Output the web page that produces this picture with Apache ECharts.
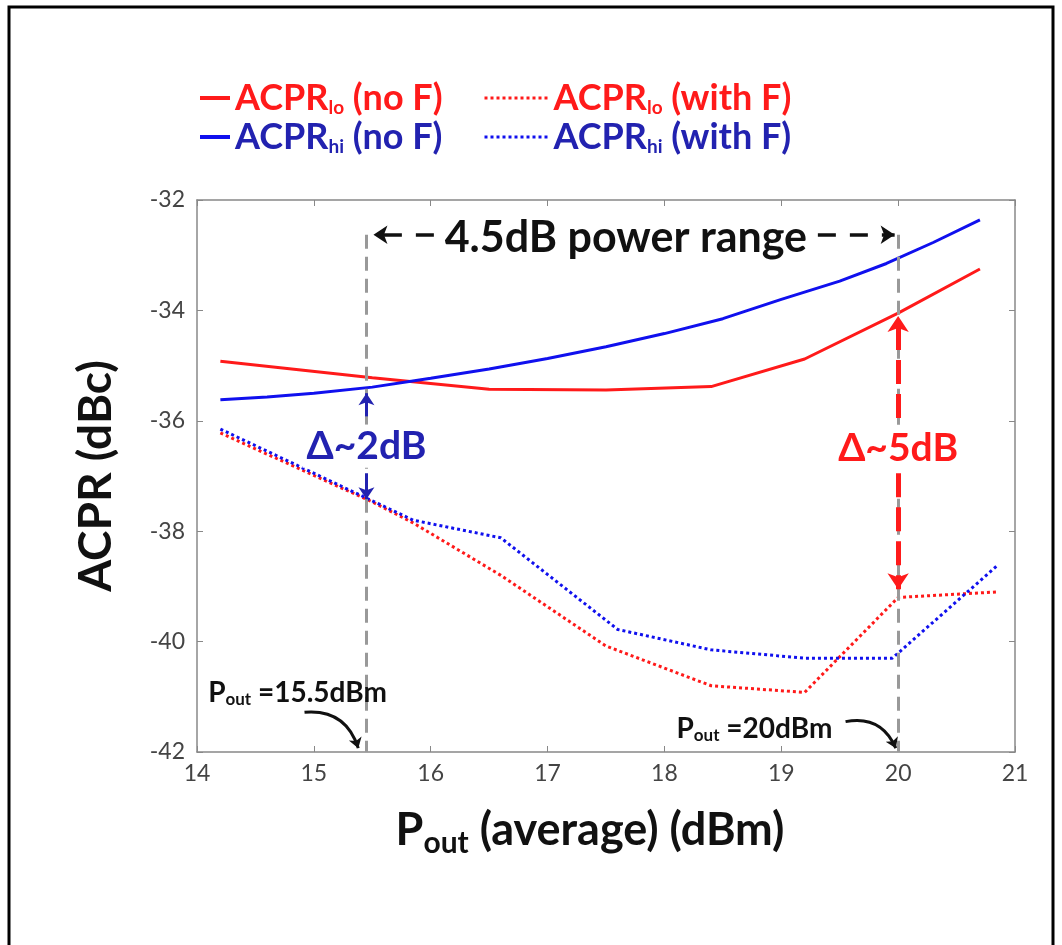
<!DOCTYPE html>
<html><head><meta charset="utf-8">
<script src="https://cdn.jsdelivr.net/npm/echarts@6/dist/echarts.min.js"></script>
<style>html,body{margin:0;padding:0;background:#fff}#c{width:1062px;height:945px}</style>
</head><body><div id="c"></div>
<script>
// ---- data ----
const loNoF_x = [14.2, 15.5, 16.5, 17.5, 18.4, 19.2, 20.0, 20.7];
const loNoF_y = [-34.92, -35.22, -35.43, -35.44, -35.38, -34.88, -34.05, -33.25];
const hiNoF_x = [14.2, 14.6, 15.0, 15.5, 16.0, 16.5, 17.0, 17.5, 18.0, 18.5, 19.0, 19.5, 19.9, 20.3, 20.7];
const hiNoF_y = [-35.62, -35.57, -35.5, -35.39, -35.23, -35.06, -34.87, -34.66, -34.42, -34.15, -33.8, -33.47, -33.15, -32.77, -32.36];
const loF_x = [14.2, 15.5, 15.85, 16.6, 17.5, 18.4, 19.2, 20.0, 20.85];
const loF_y = [-36.22, -37.47, -37.85, -38.8, -40.08, -40.8, -40.92, -39.2, -39.1];
const hiF_x = [14.2, 15.5, 15.85, 16.6, 17.6, 18.4, 19.2, 19.95, 20.85];
const hiF_y = [-36.15, -37.45, -37.8, -38.12, -39.78, -40.15, -40.3, -40.3, -38.62];
const xTicks = [14, 15, 16, 17, 18, 19, 20, 21];
const yTicks = [-42, -40, -38, -36, -34, -32];
const seriesNames = ['ACPR_lo (no F)', 'ACPR_hi (no F)', 'ACPR_lo (with F)', 'ACPR_hi (with F)'];
// annotation anchors (data units)
const refX1 = 15.45, refX2 = 20.0;

const RED = '#ff1a1a', BLUE = '#1010ee', BLUE_T = '#2222b0', FONT = 'Lato';
const zip = (xs, ys) => xs.map((x, i) => [x, ys[i]]);

const sub = {
  b: {fontFamily: FONT, fontWeight: 'bold', fontSize: 36},
  s: {fontFamily: FONT, fontWeight: 'bold', fontSize: 19, padding: [20, 0, 0, 0]}
};
function richName(n) {
  const m = n.match(/^ACPR_(\w+)(.*)$/);
  return '{b|ACPR}{s|' + m[1] + '}{b|' + m[2] + '}';
}
function legendAt(name, left, top, color, w, dotted) {
  return {
    data: [name], left: left, top: top, itemWidth: w, itemHeight: 12, itemGap: 0,
    formatter: richName, selectedMode: false,
    itemStyle: {opacity: 0},
    lineStyle: {width: dotted ? 3 : 4},
    textStyle: {color: color, rich: {b: Object.assign({color: color}, sub.b), s: Object.assign({color: color}, sub.s)}},
    padding: 0
  };
}

const solid = (c) => ({color: c, width: 3, type: 'solid'});
const dotted = (c) => ({color: c, width: 3, type: [3, 3]});
const txt = (extra) => Object.assign({show: true, position: 'inside', opacity: 1}, extra);
const smallRich = {b: {fontFamily: FONT, fontWeight: 'bold', fontSize: 28, color: '#111'}, s: {fontFamily: FONT, fontWeight: 'bold', fontSize: 17, color: '#111', padding: [14, 0, 0, 0]}};

const option = {
  backgroundColor: '#fff',
  animation: false,
  graphic: [{type: 'rect', shape: {x: 9, y: 7, width: 1044, height: 960}, style: {fill: 'none', stroke: '#000', lineWidth: 3}, silent: true}],
  legend: [
    legendAt(seriesNames[0], 198, 80, RED, 30, false),
    legendAt(seriesNames[2], 483, 80, RED, 64, true),
    legendAt(seriesNames[1], 198, 119, BLUE_T, 30, false),
    legendAt(seriesNames[3], 483, 119, BLUE_T, 64, true)
  ],
  grid: {left: 197, top: 200, right: 47, bottom: 193, outerBoundsMode: 'none', containLabel: false},
  xAxis: [{
    type: 'value', min: 14, max: 21, interval: 1,
    name: '{b|P}{s|out}{b| (average) (dBm)}', nameLocation: 'middle', nameGap: 50,
    nameTextStyle: {padding: [0, 32, 0, 0], rich: {
      b: {fontFamily: FONT, fontWeight: 'bold', fontSize: 45, color: '#111'},
      s: {fontFamily: FONT, fontWeight: 'bold', fontSize: 30, color: '#111', padding: [26, 0, 0, 0]}}},
    axisLine: {show: true, lineStyle: {color: '#888', width: 1.5}},
    axisTick: {show: true, inside: true, length: 6, lineStyle: {color: '#888'}},
    axisLabel: {color: '#444', fontFamily: FONT, fontSize: 23, margin: 10, formatter: v => xTicks.includes(v) ? String(v) : ''},
    splitLine: {show: false}
  }, {
    type: 'value', min: 14, max: 21, interval: 1, position: 'top',
    axisLine: {show: true, lineStyle: {color: '#888', width: 1.5}},
    axisTick: {show: true, inside: true, length: 6, lineStyle: {color: '#888'}},
    axisLabel: {show: false}, splitLine: {show: false}
  }],
  yAxis: [{
    type: 'value', min: -42, max: -32, interval: 2,
    name: 'ACPR (dBc)', nameLocation: 'middle', nameGap: 78,
    nameTextStyle: {fontFamily: FONT, fontWeight: 'bold', fontSize: 46, color: '#111'},
    axisLine: {show: true, lineStyle: {color: '#888', width: 1.5}},
    axisTick: {show: true, inside: true, length: 6, lineStyle: {color: '#888'}},
    axisLabel: {color: '#444', fontFamily: FONT, fontSize: 23, margin: 12, formatter: v => yTicks.includes(v) ? String(v) : ''},
    splitLine: {show: false}
  }, {
    type: 'value', min: -42, max: -32, interval: 2, position: 'right',
    axisLine: {show: true, lineStyle: {color: '#888', width: 1.5}},
    axisTick: {show: true, inside: true, length: 6, lineStyle: {color: '#888'}},
    axisLabel: {show: false}, splitLine: {show: false}
  }],
  series: [
    {name: seriesNames[2], type: 'line', data: zip(loF_x, loF_y), showSymbol: false, symbol: 'none', lineStyle: dotted(RED), itemStyle: {color: RED}, z: 3},
    {name: seriesNames[3], type: 'line', data: zip(hiF_x, hiF_y), showSymbol: false, symbol: 'none', lineStyle: dotted(BLUE), itemStyle: {color: BLUE}, z: 4},
    {name: seriesNames[0], type: 'line', data: zip(loNoF_x, loNoF_y), showSymbol: false, symbol: 'none', lineStyle: solid(RED), itemStyle: {color: RED}, z: 3},
    {name: seriesNames[1], type: 'line', data: zip(hiNoF_x, hiNoF_y), showSymbol: false, symbol: 'none', lineStyle: solid(BLUE), itemStyle: {color: BLUE}, z: 4},
    // annotations
    {
      name: 'annot', type: 'line', data: [], z: 2,
      markLine: {
        silent: true, animation: false, label: {show: false},
        data: [
          [{coord: [refX1, -32.63], symbol: 'none', lineStyle: {color: '#999', width: 3, type: [14, 8]}}, {coord: [refX1, -42], symbol: 'none'}],
          [{coord: [refX2, -32.63], symbol: 'none', lineStyle: {color: '#999', width: 3, type: [14, 8]}}, {coord: [refX2, -42], symbol: 'none'}],
          [{coord: [17.67, -32.63], symbol: 'none', symbolSize: 14, lineStyle: {color: '#111', width: 3.5, type: [18, 14]}}, {coord: [refX1 + 0.06, -32.63], symbol: 'arrow', symbolSize: 14}],
          [{coord: [17.67, -32.63], symbol: 'none', symbolSize: 14, lineStyle: {color: '#111', width: 3.5, type: [18, 14]}}, {coord: [refX2 - 0.03, -32.63], symbol: 'arrow', symbolSize: 14}],
          [{coord: [refX1, -35.92], symbol: 'none', lineStyle: {color: BLUE_T, width: 3, type: 'solid'}}, {coord: [refX1, -35.5], symbol: 'arrow', symbolSize: 12}],
          [{coord: [refX1, -36.95], symbol: 'none', lineStyle: {color: BLUE_T, width: 3, type: 'solid'}}, {coord: [refX1, -37.42], symbol: 'arrow', symbolSize: 12}],
          [{coord: [refX2, -35.95], symbol: 'none', lineStyle: {color: RED, width: 5, type: [24, 10]}}, {coord: [refX2, -34.1], symbol: 'arrow', symbolSize: 16}],
          [{coord: [refX2, -36.95], symbol: 'none', lineStyle: {color: RED, width: 5, type: [24, 10]}}, {coord: [refX2, -39.05], symbol: 'arrow', symbolSize: 16}]
        ]
      }
    },
    {
      name: 'labels', type: 'scatter', symbolSize: 0, z: 10, silent: true,
      itemStyle: {opacity: 1}, emphasis: {disabled: true},
      data: [
        {value: [17.67, -32.69], label: txt({formatter: '4.5dB power range', backgroundColor: '#fff', padding: [2, 8],
          fontFamily: FONT, fontWeight: 'bold', fontSize: 43, color: '#111'})},
        {value: [refX1, -36.46], label: txt({formatter: 'Δ~2dB', backgroundColor: '#fff', padding: [2, 4],
          fontFamily: FONT, fontWeight: 'bold', fontSize: 39, color: BLUE_T})},
        {value: [refX2, -36.5], label: txt({formatter: 'Δ~5dB', backgroundColor: '#fff', padding: [2, 4],
          fontFamily: FONT, fontWeight: 'bold', fontSize: 39, color: RED})},
        {value: [14.86, -40.93], label: txt({formatter: '{b|P}{s|out}{b| =15.5dBm}', rich: smallRich})},
        {value: [18.77, -41.58], label: txt({formatter: '{b|P}{s|out}{b| =20dBm}', rich: smallRich})}
      ]
    },
    {
      name: 'arrows', type: 'lines', coordinateSystem: 'cartesian2d', z: 10, silent: true,
      symbol: ['none', 'arrow'], symbolSize: 10,
      lineStyle: {color: '#111', width: 3, curveness: 0.4, opacity: 1},
      data: [
        {coords: [[14.92, -41.28], [15.38, -41.93]]},
        {coords: [[19.55, -41.45], [19.98, -41.93]]}
      ]
    }
  ]
};
echarts.init(document.getElementById('c'), null, {renderer: 'canvas'}).setOption(option);
</script></body></html>
